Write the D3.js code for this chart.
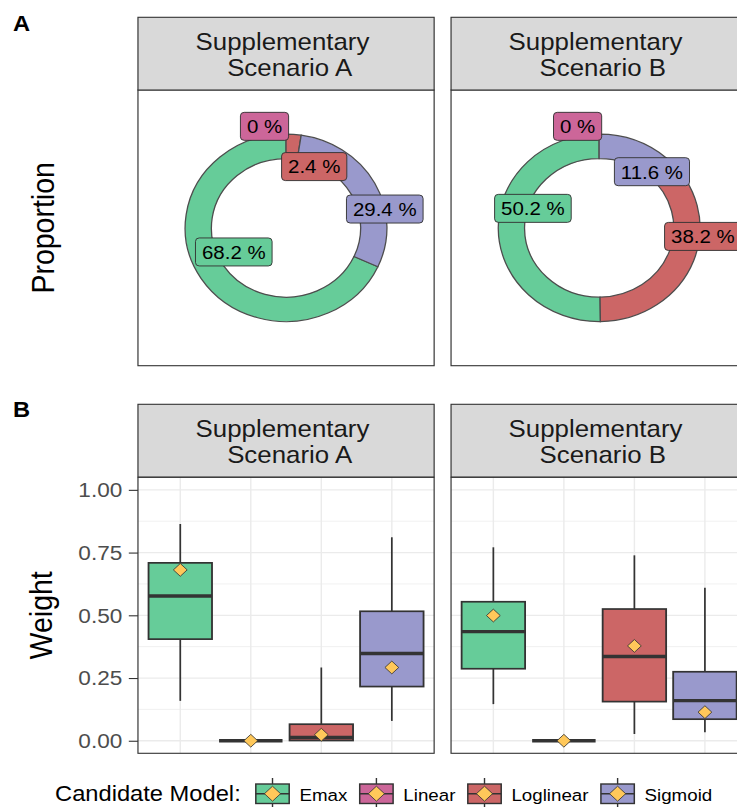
<!DOCTYPE html>
<html>
<head>
<meta charset="utf-8">
<script src="https://cdn.jsdelivr.net/npm/d3@7"></script>
<style>
body { margin: 0; background: #fff; }
text { font-family: "Liberation Sans", Arial, Helvetica, sans-serif; }
</style>
</head>
<body>
<div id="chart"></div>
<script>
let models = ['Emax', 'Linear', 'Loglinear', 'Sigmoid']
let scenarios = ['Supplementary \n Scenario A', 'Supplementary \n Scenario B']
let colors = ['#66CC99', '#CC6699', '#CC6666', '#9999CC']

// A: proportion of times each model was selected
let propA = [0.682, 0, 0.024, 0.294]
let propB = [0.502, 0, 0.382, 0.116]

// B: distribution of model weights
let lowA  = [0.159, 0, 0.000, 0.079]
let q1A   = [0.405, 0, 0.001, 0.216]
let medA  = [0.577, 0, 0.013, 0.348]
let q3A   = [0.709, 0, 0.066, 0.516]
let highA = [0.864, 0, 0.292, 0.811]
let meanA = [0.681, 0, 0.024, 0.292]

let lowB  = [0.146, 0, 0.027, 0.034]
let q1B   = [0.287, 0, 0.156, 0.086]
let medB  = [0.435, 0, 0.336, 0.160]
let q3B   = [0.554, 0, 0.525, 0.275]
let highB = [0.771, 0, 0.739, 0.610]
let meanB = [0.499, 0, 0.378, 0.114]

let yTicks = [0, 0.25, 0.5, 0.75, 1]
let yMinor = [0.125, 0.375, 0.625, 0.875]

let W = 737, H = 807
let sx = 1.077   // whole figure is stretched a bit horizontally
let panelX = [128.1, 418.8]
let panelW = 275
let stripH = 72.7
let aTop = 17.3, aBody = [90, 365.7]
let bTop = 404.3, bBody = [477.3, 753.3]
let meanFill = '#FFC85A'
let ink = '#333333'

let svg = d3.select('#chart').append('svg')
  .attr('width', W).attr('height', H)
  .style('background', '#fff')
let root = svg.append('g').attr('transform', `scale(${sx},1)`)

function strip(x, top, label) {
  root.append('rect')
    .attr('x', x).attr('y', top).attr('width', panelW).attr('height', stripH)
    .attr('fill', '#D9D9D9').attr('stroke', ink).attr('stroke-width', 1.1)
  let t = root.append('text')
    .attr('text-anchor', 'middle')
    .attr('xml:space', 'preserve')
    .style('white-space', 'pre')
    .attr('font-size', 24).attr('fill', '#1A1A1A')
  label.split('\n').forEach((l, i) => {
    t.append('tspan')
      .attr('x', x + panelW / 2)
      .attr('y', top + 32.7 + i * 25.7)
      .text(l)
  })
}

// small label repel, roughly what ggrepel does:
// labels push each other apart, then step off every anchor point
function repel(items) {
  let pad = 6
  let sgn = (v, dflt) => v > 0 ? 1 : (v < 0 ? -1 : dflt)
  for (let round = 0; round < 20; round++) {
    let moved = false
    for (let it = 0; it < 300; it++) {
      let any = false
      for (let i = 0; i < items.length; i++) {
        for (let j = i + 1; j < items.length; j++) {
          let a = items[i], b = items[j]
          let dx = b.x - a.x, dy = b.y - a.y
          let ox = (a.w + b.w) / 2 + 3 - Math.abs(dx)
          let oy = (a.h + b.h) / 2 + 3 - Math.abs(dy)
          if (ox > 0 && oy > 0) {
            let ux = sgn(dx, 1) * 0.5, uy = sgn(dy, 1) * 0.5
            a.x -= ux; a.y -= uy
            b.x += ux; b.y += uy
            any = true
          }
        }
      }
      if (!any) break
      moved = true
    }
    for (let it = 0; it < 300; it++) {
      let any = false
      items.forEach(a => {
        let s = a.ay < -5 ? 1 : -1
        items.forEach(p => {
          let inX = Math.abs(p.ax - a.x) < a.w / 2 + pad
          let inY = Math.abs(p.ay - a.y) < a.h / 2 + pad
          if (inX && inY) {
            a.x += sgn(a.x - a.ax, 1) * 0.5
            a.y += sgn(a.y - a.ay, s) * 0.5
            any = true
          }
        })
      })
      if (!any) break
      moved = true
    }
    if (!moved) break
  }
}

function donut(x0, props) {
  root.append('rect')
    .attr('x', x0).attr('y', aBody[0]).attr('width', panelW).attr('height', aBody[1] - aBody[0])
    .attr('fill', '#fff')
  let cx = x0 + panelW / 2, cy = (aBody[0] + aBody[1]) / 2
  let g = root.append('g').attr('transform', `translate(${cx},${cy})`)
  let data = models.map((m, i) => ({ model: m, value: props[i], color: colors[i] }))
  let pie = d3.pie().value(d => d.value).sort((a, b) => a.value - b.value)
  let arcs = pie(data)
  let arc = d3.arc().innerRadius(69.3).outerRadius(93.7)

  g.selectAll('path')
    .data(arcs.filter(d => d.data.value > 0))
    .enter()
    .append('path')
    .attr('d', arc)
    .attr('fill', d => d.data.color)
    .attr('stroke', '#4D4D4D')
    .attr('stroke-width', 1.2)

  let labels = g.selectAll('g.lab')
    .data(arcs)
    .enter()
    .append('g')
    .attr('class', 'lab')
  let rects = labels.append('rect')
  let texts = labels.append('text')
    .attr('text-anchor', 'middle')
    .attr('font-size', 19)
    .attr('fill', '#000')
    .text(d => `${+(d.data.value * 100).toFixed(1)} %`)

  let items = arcs.map((d, i) => {
    let c = arc.centroid(d)
    return { x: c[0], y: c[1], ax: c[0], ay: c[1],
             w: texts.nodes()[i].getComputedTextLength() + 12, h: 28 }
  })
  repel(items)

  rects
    .attr('x', (d, i) => items[i].x - items[i].w / 2)
    .attr('y', (d, i) => items[i].y - items[i].h / 2)
    .attr('width', (d, i) => items[i].w)
    .attr('height', (d, i) => items[i].h)
    .attr('rx', 3.5)
    .attr('fill', d => d.data.color)
    .attr('stroke', ink)
    .attr('stroke-width', 0.9)
  texts
    .attr('x', (d, i) => items[i].x)
    .attr('y', (d, i) => items[i].y)
    .attr('dy', '0.36em')

  root.append('rect')
    .attr('x', x0).attr('y', aBody[0]).attr('width', panelW).attr('height', aBody[1] - aBody[0])
    .attr('fill', 'none').attr('stroke', ink).attr('stroke-width', 1.1)
}

let y = d3.scaleLinear().domain([-0.05, 1.05]).range([bBody[1], bBody[0]])

function boxPanel(x0, low, q1, med, q3, high, mean) {
  let x = d3.scalePoint().domain(models).range([x0, x0 + panelW]).padding(0.6)
  let bw = x.step() * 0.9
  let g = root.append('g')
  g.append('rect')
    .attr('x', x0).attr('y', bBody[0]).attr('width', panelW).attr('height', bBody[1] - bBody[0])
    .attr('fill', '#fff')

  g.selectAll('line.minor').data(yMinor).enter().append('line')
    .attr('x1', x0).attr('x2', x0 + panelW)
    .attr('y1', d => y(d)).attr('y2', d => y(d))
    .attr('stroke', '#EBEBEB').attr('stroke-width', 0.7)
  g.selectAll('line.major').data(yTicks).enter().append('line')
    .attr('x1', x0).attr('x2', x0 + panelW)
    .attr('y1', d => y(d)).attr('y2', d => y(d))
    .attr('stroke', '#EBEBEB').attr('stroke-width', 1.3)
  g.selectAll('line.vert').data(models).enter().append('line')
    .attr('x1', d => x(d)).attr('x2', d => x(d))
    .attr('y1', bBody[0]).attr('y2', bBody[1])
    .attr('stroke', '#EBEBEB').attr('stroke-width', 1.3)

  models.forEach((m, i) => {
    let cx = x(m)
    g.append('line')
      .attr('x1', cx).attr('x2', cx)
      .attr('y1', y(high[i])).attr('y2', y(low[i]))
      .attr('stroke', ink).attr('stroke-width', 1.6)
    g.append('rect')
      .attr('x', cx - bw / 2).attr('width', bw)
      .attr('y', y(q3[i])).attr('height', y(q1[i]) - y(q3[i]))
      .attr('fill', colors[i]).attr('stroke', ink).attr('stroke-width', 1.7)
    g.append('line')
      .attr('x1', cx - bw / 2).attr('x2', cx + bw / 2)
      .attr('y1', y(med[i])).attr('y2', y(med[i]))
      .attr('stroke', ink).attr('stroke-width', 3.4)
    let r = 6.4, my = y(mean[i])
    g.append('path')
      .attr('d', `M${cx},${my - r}L${cx + r},${my}L${cx},${my + r}L${cx - r},${my}Z`)
      .attr('fill', meanFill).attr('stroke', ink).attr('stroke-width', 0.8)
  })

  g.append('rect')
    .attr('x', x0).attr('y', bBody[0]).attr('width', panelW).attr('height', bBody[1] - bBody[0])
    .attr('fill', 'none').attr('stroke', ink).attr('stroke-width', 1.1)
}

// row A
donut(panelX[0], propA)
donut(panelX[1], propB)
strip(panelX[0], aTop, scenarios[0])
strip(panelX[1], aTop, scenarios[1])

// row B
boxPanel(panelX[0], lowA, q1A, medA, q3A, highA, meanA)
boxPanel(panelX[1], lowB, q1B, medB, q3B, highB, meanB)
strip(panelX[0], bTop, scenarios[0])
strip(panelX[1], bTop, scenarios[1])

let yAxis = root.append('g')
  .attr('transform', `translate(${panelX[0]},0)`)
  .call(d3.axisLeft(y).tickValues(yTicks).tickFormat(d3.format('.2f')).tickSize(8.5).tickPadding(6))
yAxis.select('.domain').remove()
yAxis.selectAll('line').attr('stroke', ink).attr('stroke-width', 1.1)
yAxis.selectAll('text').attr('fill', '#4D4D4D').attr('font-size', 21)
  .style('font-family', '"Liberation Sans", Arial, sans-serif')

// axis titles and panel tags
root.append('text')
  .attr('transform', `translate(50,${(aBody[0] + aBody[1]) / 2}) rotate(-90)`)
  .attr('text-anchor', 'middle').attr('font-size', 28.5).attr('fill', '#000')
  .text('Proportion')
root.append('text')
  .attr('transform', `translate(48,${(bBody[0] + bBody[1]) / 2}) rotate(-90)`)
  .attr('text-anchor', 'middle').attr('font-size', 28.5).attr('fill', '#000')
  .text('Weight')
root.append('text').attr('x', 12).attr('y', 30.7)
  .attr('font-size', 22).attr('font-weight', 'bold').text('A')
root.append('text').attr('x', 12).attr('y', 417.3)
  .attr('font-size', 22).attr('font-weight', 'bold').text('B')

// legend
let legend = root.append('g')
let lx = 51.1, ly = 801.5, ky = 793.7, kw = 31
let title = legend.append('text')
  .attr('x', lx).attr('y', ly).attr('font-size', 22).attr('fill', '#000')
  .text('Candidate Model:')
let pos = lx + title.node().getComputedTextLength() + 14
models.forEach((m, i) => {
  let kg = legend.append('g').attr('transform', `translate(${pos},0)`)
  kg.append('line')
    .attr('x1', kw / 2).attr('x2', kw / 2).attr('y1', 778).attr('y2', 812)
    .attr('stroke', ink).attr('stroke-width', 1.3)
  kg.append('rect')
    .attr('x', 0).attr('y', 784).attr('width', kw).attr('height', 19.5)
    .attr('fill', colors[i]).attr('stroke', ink).attr('stroke-width', 1.4)
  kg.append('line')
    .attr('x1', 0).attr('x2', kw).attr('y1', ky).attr('y2', ky)
    .attr('stroke', ink).attr('stroke-width', 1.6)
  let r = 7.5
  kg.append('path')
    .attr('d', `M${kw / 2},${ky - r}L${kw / 2 + r},${ky}L${kw / 2},${ky + r}L${kw / 2 - r},${ky}Z`)
    .attr('fill', meanFill).attr('stroke', ink).attr('stroke-width', 0.8)
  let t = kg.append('text')
    .attr('x', kw + 9.5).attr('y', ly).attr('font-size', 17.4).attr('fill', '#000')
    .text(m)
  pos += kw + 9.5 + t.node().getComputedTextLength() + 11.5
})
</script>
</body>
</html>
